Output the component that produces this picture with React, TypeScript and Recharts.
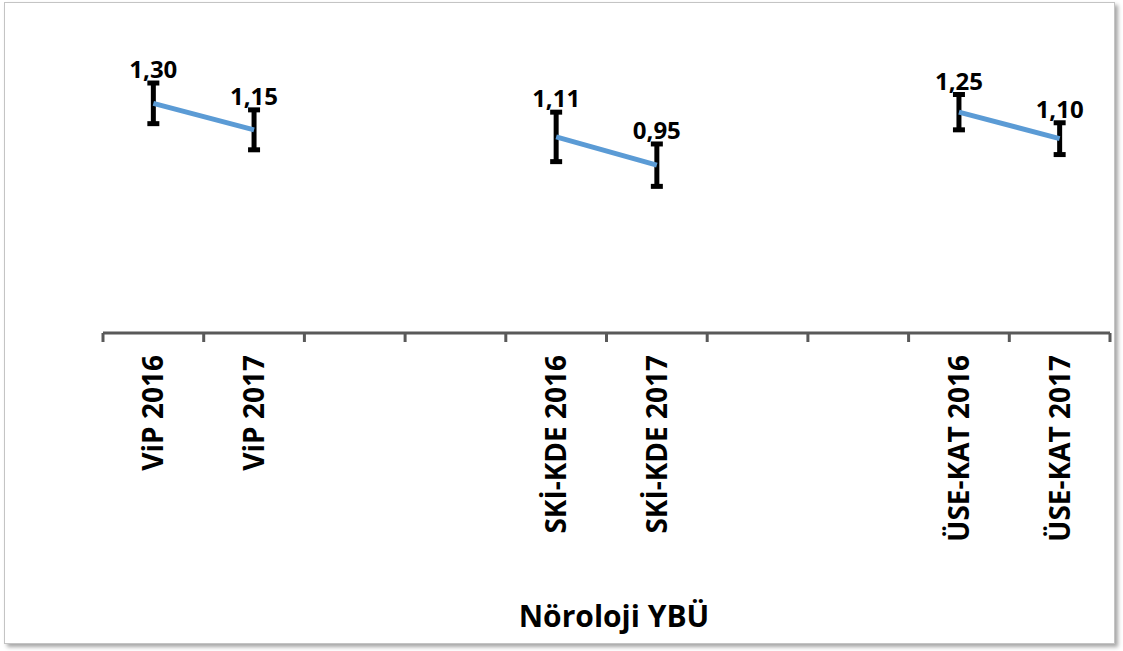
import React from "react";
import { LineChart, Line, XAxis, YAxis, ErrorBar, LabelList } from "recharts";

// kategoriler (boş olanlar gruplar arası boşluk)
const categories = [
  "ViP 2016",
  "ViP 2017",
  "",
  "",
  "SKİ-KDE 2016",
  "SKİ-KDE 2017",
  "",
  "",
  "ÜSE-KAT 2016",
  "ÜSE-KAT 2017",
];
const values: (number | null)[] = [1.3, 1.15, null, null, 1.11, 0.95, null, null, 1.25, 1.1];
const errors: (number | null)[] = [0.115, 0.113, null, null, 0.14, 0.12, null, null, 0.1, 0.09];
const xTitle = "Nöroloji YBÜ";

const W = 1123;
const H = 651;
const M = { top: 15, right: 13, bottom: 0, left: 103 };
const AXIS_H = 318;
const Y_MAX = 1.8;
const PLOT_H = H - M.top - M.bottom - AXIS_H;
const PX_PER_UNIT = PLOT_H / Y_MAX;
const BAND = (W - M.left - M.right) / categories.length;
const FONT = "'Open Sans', 'DejaVu Sans', sans-serif";

const data = categories.map((name, i) => ({
  name,
  value: values[i],
  err: errors[i],
}));

function CategoryTick(props: any) {
  const { x, y, payload, index } = props;
  const last = index === categories.length - 1;
  const left = x - BAND / 2;
  const right = x + BAND / 2;
  return (
    <g>
      <line x1={left} y1={y} x2={left} y2={y + 9} stroke="#595959" strokeWidth={3} />
      {last && <line x1={right} y1={y} x2={right} y2={y + 9} stroke="#595959" strokeWidth={3} />}
      {payload.value && (
        <text
          x={x}
          y={y + 22}
          transform={`rotate(-90 ${x} ${y + 22})`}
          textAnchor="end"
          dy="0.36em"
          fontFamily={FONT}
          fontWeight={700}
          fontSize={28}
          fill="#000"
        >
          {payload.value}
        </text>
      )}
    </g>
  );
}

function ValueLabel(props: any) {
  const { x, y, value, index } = props;
  if (value == null) return null;
  const e = errors[index] ?? 0;
  return (
    <text
      x={x}
      y={y - e * PX_PER_UNIT - 5}
      textAnchor="middle"
      fontFamily={FONT}
      fontWeight={700}
      fontSize={24}
      fill="#000"
    >
      {value.toFixed(2).replace(".", ",")}
    </text>
  );
}

function renderTitle() {
  return (
    <text
      x={614}
      y={627}
      textAnchor="middle"
      fontFamily={FONT}
      fontWeight={700}
      fontSize={30}
      fill="#000"
    >
      {xTitle}
    </text>
  );
}

export default function App() {
  return (
    <div style={{ position: "absolute", left: 0, top: 0, width: W, height: H, background: "#fff" }}>
      <div
        style={{
          position: "absolute",
          left: 4,
          top: 2,
          width: 1111,
          height: 642,
          boxSizing: "border-box",
          border: "1.5px solid #c4c4c4",
          boxShadow: "3px 3px 4px rgba(0,0,0,0.35)",
        }}
      />
      <div style={{ position: "absolute", left: 0, top: 0 }}>
        <LineChart width={W} height={H} data={data} margin={M}>
          <XAxis
            dataKey="name"
            padding={{ left: BAND / 2, right: BAND / 2 }}
            height={AXIS_H}
            axisLine={{ stroke: "#595959", strokeWidth: 3 }}
            tickLine={false}
            tickSize={0}
            tickMargin={0}
            interval={0}
            tick={<CategoryTick />}
            label={renderTitle}
          />
          <YAxis hide domain={[0, Y_MAX]} />
          <Line
            dataKey="value"
            stroke="#5B9BD5"
            strokeWidth={5}
            dot={false}
            isAnimationActive={false}
          >
            <ErrorBar dataKey="err" direction="y" width={6} strokeWidth={5} stroke="#000" />
            <LabelList dataKey="value" content={<ValueLabel />} />
          </Line>
        </LineChart>
      </div>
    </div>
  );
}
